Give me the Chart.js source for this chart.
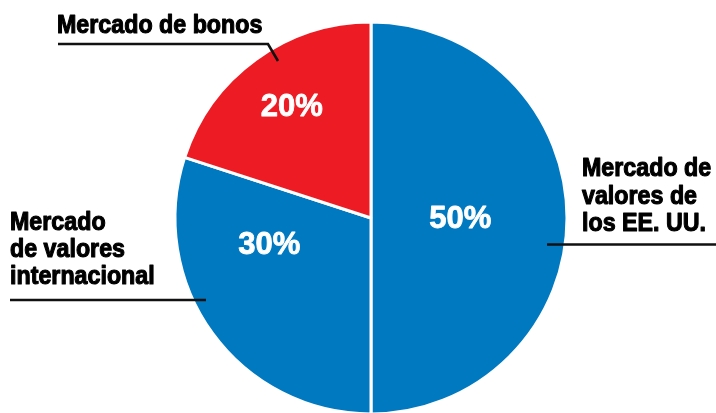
<!DOCTYPE html>
<html>
<head>
<meta charset="utf-8">
<script src="https://cdn.jsdelivr.net/npm/chart.js@4/dist/chart.umd.min.js"></script>
<style>
  html, body { margin: 0; padding: 0; background: #ffffff; overflow: hidden; }
  #wrap { width: 716px; height: 413px; overflow: hidden; }
</style>
</head>
<body>
<div id="wrap"><canvas id="c" width="716" height="440"></canvas></div>
<script>
// Data
const categories = ["Mercado de valores de los EE. UU.", "Mercado de valores internacional", "Mercado de bonos"];
const values = [50, 30, 20];
const percentLabels = ["50%", "30%", "20%"];
const colors = ["#0079C1", "#0079C1", "#ED1C24"];

// Label text lines for each slice
const labelLines = [
  ["Mercado de", "valores de", "los EE. UU."],
  ["Mercado", "de valores", "internacional"],
  ["Mercado de bonos"]
];

// Placement of the inner percentage labels (fraction along slice angle, fraction of radius)
const pctAngleFrac = [0.5, 0.70, 0.51];
const pctRadiusFrac = [0.455, 0.536, 0.70];

const outsideLabels = {
  id: 'outsideLabels',
  afterDraw(chart) {
    const ctx = chart.ctx;
    const meta = chart.getDatasetMeta(0);
    ctx.save();
    // percentage labels
    ctx.fillStyle = '#ffffff';
    ctx.strokeStyle = '#ffffff';
    ctx.lineWidth = 0.8;
    ctx.lineJoin = 'round';
    ctx.font = 'bold 31px "Liberation Sans", Arial, sans-serif';
    ctx.textAlign = 'center';
    ctx.textBaseline = 'middle';
    meta.data.forEach((arc, i) => {
      const p = arc.getProps(['x', 'y', 'startAngle', 'endAngle', 'outerRadius'], true);
      const a = p.startAngle + (p.endAngle - p.startAngle) * pctAngleFrac[i];
      const r = p.outerRadius * pctRadiusFrac[i];
      const x = p.x + Math.cos(a) * r, y = p.y + Math.sin(a) * r + 1;
      ctx.fillText(percentLabels[i], x, y);
      ctx.strokeText(percentLabels[i], x, y);
    });

    // outside labels
    ctx.fillStyle = '#000000';
    ctx.strokeStyle = '#000000';
    ctx.lineWidth = 1.1;
    ctx.font = 'bold 25px "Liberation Sans", Arial, sans-serif';
    ctx.textAlign = 'left';
    ctx.textBaseline = 'alphabetic';
    const drawScaled = (t, x, y) => {
      ctx.save();
      ctx.translate(x, y);
      ctx.scale(0.93, 1);
      ctx.fillText(t, 0, 0);
      ctx.strokeText(t, 0, 0);
      ctx.restore();
    };
    // US stocks
    labelLines[0].forEach((t, k) => drawScaled(t, 582, 176 + k * 27.5));
    // International
    labelLines[1].forEach((t, k) => drawScaled(t, 10, 230 + k * 27));
    // Bonds
    labelLines[2].forEach((t, k) => drawScaled(t, 57, 33 + k * 27));

    // leader lines
    ctx.strokeStyle = '#111111';
    ctx.lineWidth = 2.6;
    ctx.lineCap = 'butt';
    ctx.lineJoin = 'miter';
    ctx.beginPath();
    ctx.moveTo(547, 244.5); ctx.lineTo(716, 244.5);
    ctx.moveTo(10, 300); ctx.lineTo(206, 300);
    ctx.moveTo(58, 44); ctx.lineTo(268, 44); ctx.lineTo(278, 61);
    ctx.stroke();
    ctx.restore();
  }
};

new Chart(document.getElementById('c'), {
  type: 'pie',
  data: {
    labels: categories,
    datasets: [{
      data: values,
      backgroundColor: colors,
      borderColor: '#ffffff',
      borderWidth: 3,
      hoverOffset: 0
    }]
  },
  options: {
    responsive: false,
    animation: false,
    layout: { padding: { top: 20.5, bottom: 24.5, left: 173.5, right: 147.5 } },
    plugins: {
      legend: { display: false },
      tooltip: { enabled: false }
    }
  },
  plugins: [outsideLabels]
});
</script>
</body>
</html>
